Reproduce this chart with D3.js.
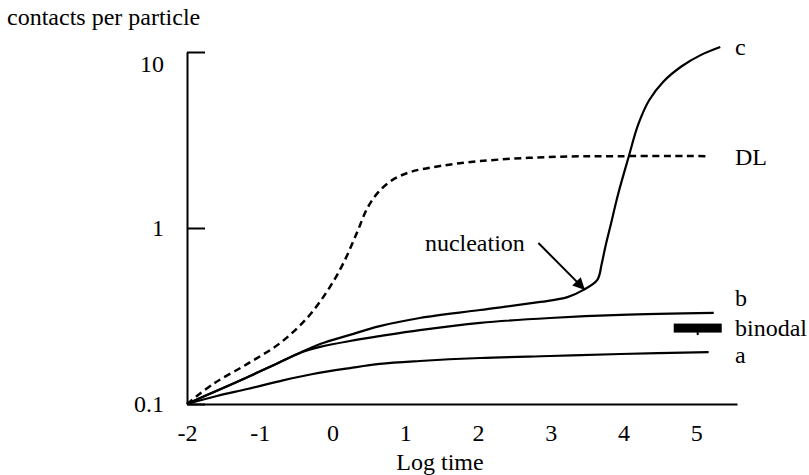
<!DOCTYPE html>
<html>
<head>
<meta charset="utf-8">
<script src="https://cdn.jsdelivr.net/npm/d3@7"></script>
<style>
  body { margin: 0; background: #fff; }
  text { font-family: "Liberation Serif", "Times New Roman", serif; fill: #000; }
</style>
</head>
<body>
<div id="chart"></div>
<script>
// curves: [log time, contacts per particle]
var curveDL = [[-2, 0.1], [-1.64, 0.13], [-1.17, 0.169], [-0.72, 0.222], [-0.35, 0.308],
  [-0.07, 0.439], [0.15, 0.632], [0.34, 0.949], [0.48, 1.3], [0.63, 1.6], [0.82, 1.87],
  [1.07, 2.08], [1.48, 2.25], [2.03, 2.4], [2.95, 2.53], [3.96, 2.56], [5.17, 2.56]];
var curveC = [[-2, 0.1], [-1.59, 0.119], [-1.17, 0.142], [-0.76, 0.17], [-0.45, 0.195],
  [-0.17, 0.219], [0.24, 0.247], [0.65, 0.277], [1.2, 0.308], [2.03, 0.342], [2.86, 0.38],
  [3.23, 0.405], [3.45, 0.445], [3.64, 0.507], [3.7, 0.624], [3.75, 0.78], [3.82, 1.026],
  [3.93, 1.58], [4.07, 2.53], [4.2, 3.85], [4.35, 5.3], [4.55, 6.8], [4.8, 8.3],
  [5.06, 9.6], [5.33, 10.67]];
var curveB = [[-2, 0.1], [-1.59, 0.119], [-1.17, 0.142], [-0.76, 0.17], [-0.45, 0.195],
  [-0.17, 0.211], [0.24, 0.228], [0.65, 0.243], [1.2, 0.263], [2.03, 0.289], [2.99, 0.308],
  [3.96, 0.321], [5.24, 0.329]];
var curveA = [[-2, 0.1], [-1.59, 0.111], [-1.17, 0.1217], [-0.72, 0.135], [-0.27, 0.148],
  [0.24, 0.16], [0.65, 0.169], [1.2, 0.1755], [2.03, 0.1825], [2.99, 0.1874], [3.96, 0.1923],
  [5.17, 0.197]];

var binodalX = [4.69, 5.35];
var binodalY = 0.27;

var xTicks = [-2, -1, 0, 1, 2, 3, 4, 5];
var yTicks = [0.1, 1, 10];
var yTickLabels = ["0.1", "1", "10"];

// end labels: [text, value]
var endLabels = [["c", 10.7], ["DL", 2.53], ["b", 0.4], ["binodal", 0.27], ["a", 0.19]];

var svgWidth = 809;
var svgHeight = 475;

var svg = d3.select("#chart")
  .append("svg")
  .attr("width", svgWidth)
  .attr("height", svgHeight);

var xScale = d3.scaleLinear().domain([-2, 5.56]).range([187, 737]);
var yScale = d3.scaleLog().domain([0.1, 10]).range([404, 52]);

// axes
var leftAxis = d3.axisLeft(yScale)
  .tickValues(yTicks)
  .tickFormat((d, i) => yTickLabels[i])
  .tickSizeInner(-18)
  .tickSizeOuter(0)
  .tickPadding(23);
var bottomAxis = d3.axisBottom(xScale)
  .tickValues(xTicks)
  .tickFormat(d3.format("d"))
  .tickSize(0)
  .tickPadding(20);

var gy = svg.append("g").attr("transform", "translate(187,0)").call(leftAxis);
var gx = svg.append("g").attr("transform", "translate(0,404)").call(bottomAxis);

[gx, gy].forEach(function (g) {
  g.select(".domain").attr("stroke", "#000").attr("stroke-width", 2);
  g.selectAll(".tick line").attr("stroke", "#000").attr("stroke-width", 2);
  g.selectAll("text")
    .style("font-family", '"Liberation Serif", serif')
    .style("font-size", "24px")
    .attr("fill", "#000");
});
gx.selectAll(".tick text").text((d) => (d < 0 ? "-" + Math.abs(d) : d));
// the "10" label sits a little below its tick
gy.selectAll(".tick text").filter((d) => d === 10).attr("y", 12);

// titles
svg.append("text")
  .attr("x", 7).attr("y", 25)
  .style("font-size", "24px")
  .text("contacts per particle");
svg.append("text")
  .attr("x", 440).attr("y", 470)
  .style("text-anchor", "middle")
  .style("font-size", "24px")
  .text("Log time");

// curves
var line = d3.line()
  .x((d) => xScale(d[0]))
  .y((d) => yScale(d[1]))
  .curve(d3.curveCatmullRom.alpha(0.5));

svg.append("path")
  .datum(curveDL)
  .attr("d", line)
  .attr("fill", "none")
  .attr("stroke", "#000")
  .attr("stroke-width", 2.5)
  .attr("stroke-dasharray", "7,4.5");

[curveA, curveB, curveC].forEach(function (c) {
  svg.append("path")
    .datum(c)
    .attr("d", line)
    .attr("fill", "none")
    .attr("stroke", "#000")
    .attr("stroke-width", 2.2);
});

// binodal bar
svg.append("rect")
  .attr("x", xScale(binodalX[0]))
  .attr("y", yScale(binodalY) - 4.5)
  .attr("width", xScale(binodalX[1]) - xScale(binodalX[0]))
  .attr("height", 9)
  .attr("fill", "#000");
svg.append("rect")
  .attr("x", xScale((binodalX[0] + binodalX[1]) / 2) - 1)
  .attr("y", yScale(binodalY) + 4)
  .attr("width", 2)
  .attr("height", 3)
  .attr("fill", "#000");

// end labels
svg.append("g")
  .selectAll("text")
  .data(endLabels)
  .enter()
  .append("text")
  .attr("x", 735)
  .attr("y", (d) => yScale(d[1]))
  .attr("dy", "0.33em")
  .style("font-size", "24px")
  .text((d) => d[0]);

// nucleation annotation
svg.append("defs")
  .append("marker")
  .attr("id", "arrow")
  .attr("viewBox", "0 0 10 10")
  .attr("refX", 10).attr("refY", 5)
  .attr("markerWidth", 7).attr("markerHeight", 6)
  .attr("markerUnits", "strokeWidth")
  .attr("orient", "auto")
  .append("path")
  .attr("d", "M0,0L10,5L0,10z")
  .attr("fill", "#000");

svg.append("line")
  .attr("x1", xScale(2.83)).attr("y1", yScale(0.822))
  .attr("x2", xScale(3.47)).attr("y2", yScale(0.445))
  .attr("stroke", "#000")
  .attr("stroke-width", 2)
  .attr("marker-end", "url(#arrow)");

svg.append("text")
  .attr("x", xScale(1.27)).attr("y", yScale(0.74))
  .style("font-size", "24px")
  .text("nucleation");
</script>
</body>
</html>
